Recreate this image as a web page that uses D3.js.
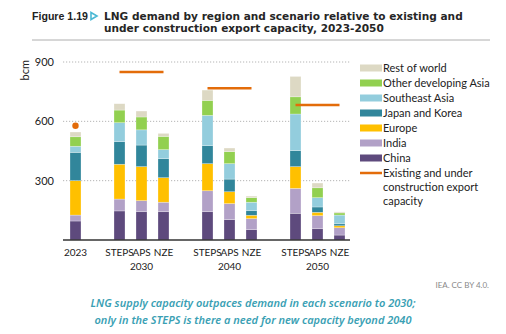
<!DOCTYPE html>
<html>
<head>
<meta charset="utf-8">
<script src="https://cdn.jsdelivr.net/npm/d3@7"></script>
<style>
  body { margin: 0; background: #fff; }
  svg { display: block; }
  .title { font-family: "DejaVu Sans", sans-serif; font-size: 10px; font-weight: bold; fill: #262626; }
  .fig { font-family: "Liberation Sans", Arial, sans-serif; font-size: 10.6px; font-weight: bold; fill: #222; }
  .lbl { font-family: Lato, sans-serif; font-size: 11px; fill: #222; }
  .xlbl { font-family: Lato, sans-serif; font-size: 10px; fill: #222; }
  .caption { font-family: "Noto Sans", sans-serif; font-size: 11px; font-style: italic; font-weight: 600; fill: #3a9fb4; }
  .credit { font-family: Lato, sans-serif; font-size: 8px; fill: #888; }
</style>
</head>
<body>
<svg id="chart" width="506" height="334"></svg>
<script>
const years = ["2023", "2030", "2040", "2050"];
const bars = ["2023", "2030 STEPS", "2030 APS", "2030 NZE", "2040 STEPS", "2040 APS", "2040 NZE",
  "2050 STEPS", "2050 APS", "2050 NZE"];
const barLabels = ["2023", "STEPS", "APS", "NZE", "STEPS", "APS", "NZE", "STEPS", "APS", "NZE"];

const china = [96, 147, 143, 143, 143, 103, 52, 135, 57, 25];
const india = [30, 60, 56, 48, 106, 81, 56, 126, 66, 37];
const europe = [174, 176, 172, 124, 137, 60, 17, 110, 17, 10];
const japanKorea = [143, 114, 109, 96, 91, 64, 23, 81, 27, 10];
const southeastAsia = [31, 96, 77, 46, 153, 78, 43, 185, 47, 44];
const otherDevAsia = [48, 64, 65, 67, 76, 61, 23, 87, 50, 11];
const restOfWorld = [24, 32, 30, 15, 52, 18, 8, 103, 24, 5];

// existing and under construction export capacity
const capacity = [578, 850, 767, 683];

const yTicks = [300, 600, 900];

const series = [
  { name: "China", values: china, color: "#5e4a7d" },
  { name: "India", values: india, color: "#b2a1c7" },
  { name: "Europe", values: europe, color: "#ffc000" },
  { name: "Japan and Korea", values: japanKorea, color: "#31869b" },
  { name: "Southeast Asia", values: southeastAsia, color: "#93cddd" },
  { name: "Other developing Asia", values: otherDevAsia, color: "#92d050" },
  { name: "Rest of world", values: restOfWorld, color: "#ddd9c4" }
];
const capColor = "#e36c0a";

const svg = d3.select("#chart");
svg.append("rect").attr("width", 506).attr("height", 334).attr("fill", "#fff");

// title
svg.append("text").attr("class", "fig").attr("x", 32).attr("y", 20).text("Figure 1.19");
svg.append("path")
  .attr("d", "M91,12.5 L97,16 L91,19.5 Z")
  .attr("fill", "#fff").attr("stroke", "#4bb8d4").attr("stroke-width", 1.6);
const t1 = svg.append("text").attr("class", "title").attr("x", 104).attr("y", 19.5)
  .text("LNG demand by region and scenario relative to existing and");
const t2 = svg.append("text").attr("class", "title").attr("x", 104).attr("y", 32)
  .text("under construction export capacity, 2023-2050");
// fit first title line to its width in the reference
const fs = Math.min(10.6, 10 * 359 / t1.node().getComputedTextLength());
t1.style("font-size", fs + "px");
t2.style("font-size", fs + "px");
svg.append("line").attr("x1", 32).attr("x2", 490).attr("y1", 40).attr("y2", 40)
  .attr("stroke", "#999").attr("stroke-width", 0.8);

// slots: gap before every scenario group
const slots = [];
bars.forEach((b, i) => {
  if (i > 0 && b.endsWith("STEPS")) slots.push("gap" + i);
  slots.push(b);
});

const x = d3.scaleBand().domain(slots).range([64.5, 350.5]).paddingInner(0.5).paddingOuter(0.25);
const y = d3.scaleLinear().domain([0, 900]).range([240, 62]);

// gridlines
svg.append("g")
  .selectAll("line")
  .data(yTicks)
  .join("line")
  .attr("x1", 63).attr("x2", 350)
  .attr("y1", d => y(d)).attr("y2", d => y(d))
  .attr("stroke", "#b5b5b5").attr("stroke-width", 1).attr("stroke-dasharray", "1.2,1.8");

const yAxis = svg.append("g")
  .attr("transform", "translate(58,0)")
  .call(d3.axisLeft(y).tickValues(yTicks).tickSize(0).tickPadding(4));
yAxis.select(".domain").remove();
yAxis.selectAll("text").attr("class", "lbl").attr("font-family", null).attr("font-size", null);

svg.append("text").attr("class", "lbl")
  .attr("transform", "translate(29,60) rotate(-90)")
  .attr("text-anchor", "end")
  .text("bcm");

// stacked bars
const rows = bars.map((b, i) => {
  const r = { key: b };
  series.forEach(s => (r[s.name] = s.values[i]));
  return r;
});
const stacked = d3.stack().keys(series.map(s => s.name))(rows);

svg.append("g")
  .selectAll("g")
  .data(stacked)
  .join("g")
  .attr("fill", (d, i) => series[i].color)
  .selectAll("rect")
  .data(d => d)
  .join("rect")
  .attr("x", d => x(d.data.key))
  .attr("width", x.bandwidth())
  .attr("y", d => y(d[1]))
  .attr("height", d => y(d[0]) - y(d[1]))
  .attr("stroke", "#fff").attr("stroke-opacity", 0.45).attr("stroke-width", 0.6);

// baseline
svg.append("line").attr("x1", 63).attr("x2", 350).attr("y1", y(0)).attr("y2", y(0))
  .attr("stroke", "#333").attr("stroke-width", 1.5);

// capacity: dot for 2023, lines spanning STEPS..NZE for scenario years
const capData = years.map((yr, i) => ({ year: yr, value: capacity[i] }));
svg.append("g")
  .selectAll("circle")
  .data(capData.filter(d => d.year === "2023"))
  .join("circle")
  .attr("cx", d => x(d.year) + x.bandwidth() / 2)
  .attr("cy", d => y(d.value))
  .attr("r", 3.2)
  .attr("fill", capColor);

svg.append("g")
  .selectAll("line")
  .data(capData.filter(d => d.year !== "2023"))
  .join("line")
  .attr("x1", d => x(d.year + " STEPS") + x.bandwidth() / 2)
  .attr("x2", d => x(d.year + " NZE") + x.bandwidth() / 2)
  .attr("y1", d => y(d.value)).attr("y2", d => y(d.value))
  .attr("stroke", capColor).attr("stroke-width", 2.5);

// x labels
svg.append("g")
  .selectAll("text")
  .data(bars)
  .join("text")
  .attr("class", "xlbl")
  .attr("x", d => x(d) + x.bandwidth() / 2)
  .attr("y", 256)
  .attr("text-anchor", "middle")
  .text((d, i) => barLabels[i]);

svg.append("g")
  .selectAll("text")
  .data(years.slice(1))
  .join("text")
  .attr("class", "xlbl")
  .attr("x", d => x(d + " APS") + x.bandwidth() / 2)
  .attr("y", 270)
  .attr("text-anchor", "middle")
  .text(d => d);

// legend
const legend = svg.append("g").attr("transform", "translate(360,68)");
const legendItems = series.slice().reverse();
legendItems.forEach((s, i) => {
  legend.append("rect")
    .attr("x", 0).attr("y", i * 15 - 3.5)
    .attr("width", 22).attr("height", 7)
    .attr("fill", s.color);
  legend.append("text").attr("class", "lbl")
    .attr("x", 23).attr("y", i * 15 + 4)
    .text(s.name);
});
const capY = legendItems.length * 15;
legend.append("line")
  .attr("x1", 0).attr("x2", 22).attr("y1", capY).attr("y2", capY)
  .attr("stroke", capColor).attr("stroke-width", 2.5);
["Existing and under", "construction export", "capacity"].forEach((t, i) => {
  legend.append("text").attr("class", "lbl")
    .attr("x", 23).attr("y", capY + 4 + i * 14)
    .text(t);
});

// credit and caption
svg.append("text").attr("class", "credit")
  .attr("x", 489).attr("y", 288).attr("text-anchor", "end")
  .text("IEA. CC BY 4.0.");
svg.append("text").attr("class", "caption")
  .attr("x", 253).attr("y", 307).attr("text-anchor", "middle")
  .text("LNG supply capacity outpaces demand in each scenario to 2030;");
svg.append("text").attr("class", "caption")
  .attr("x", 253).attr("y", 324).attr("text-anchor", "middle")
  .text("only in the STEPS is there a need for new capacity beyond 2040");
</script>
</body>
</html>
